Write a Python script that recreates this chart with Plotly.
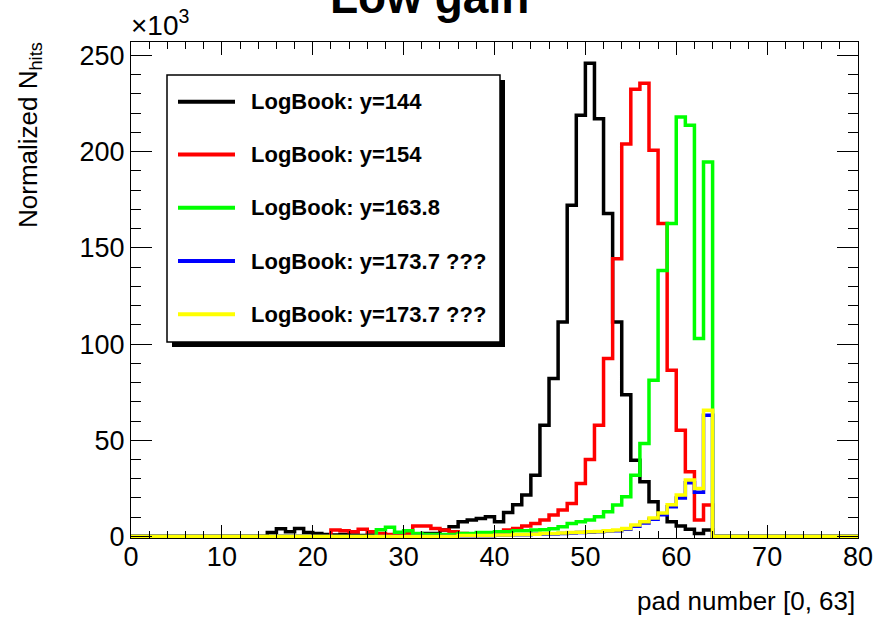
import numpy as np
import plotly.graph_objects as go

# ---------------- data (values in units of 10^3 hits) ----------------
bin_edges = list(range(0, 81))          # 80 bins of width 1 on [0, 80]
n_bins = 80

# pads 0..63 (bins 64..79 are empty)
black_y144 = [
    0, 0, 0, 0, 0, 0, 0, 0, 0, 0, 0, 0, 0, 0, 0, 2.0,
    4.0, 2.4, 4.2, 2.0, 1.5, 1.0, 0.8, 1.0, 0.8, 0.5, 0.8, 0.5, 0.8, 1.0, 0.8, 1.0,
    1.5, 1.5, 3.3, 5.0, 7.6, 8.5, 9.3, 10.2, 7.6, 12.5, 16.5, 21.5, 31.8, 57.8, 82.1, 111.5,
    172.1, 218.9, 246.0, 217.1, 167.8, 111.5, 73.6, 39.6, 28.5, 18.0, 11.5, 7.6, 5.5, 3.8, 1.6, 3.3,
]
red_y154 = [
    0, 0, 0, 0, 0, 0, 0, 0, 0, 0, 0, 0, 0, 0, 0, 0,
    0, 0, 0, 0, 0, 0, 3.3, 3.0, 2.4, 3.8, 2.4, 1.5, 1.0, 1.0, 1.5, 5.4,
    5.4, 4.2, 3.3, 2.4, 1.5, 1.0, 1.0, 1.0, 1.5, 3.3, 4.2, 5.5, 6.8, 8.5, 11.1, 13.7,
    17.1, 27.5, 40.0, 57.8, 92.5, 144.4, 204.0, 232.5, 235.5, 200.7, 162.6, 86.4, 55.2, 33.6, 8.5, 16.3,
]
green_y163_8 = [
    0, 0, 0, 0, 0, 0, 0, 0, 0, 0, 0, 0, 0, 0, 0, 0,
    0, 0, 0, 0, 0, 0, 0, 0, 0, 0, 0, 3.5, 4.8, 2.2, 3.0, 1.5,
    1.0, 1.0, 1.0, 1.0, 1.5, 1.5, 2.0, 2.0, 2.5, 2.5, 3.0, 3.0, 3.3, 3.5, 4.0, 5.0,
    6.8, 7.6, 8.5, 10.2, 12.8, 16.3, 20.6, 31.8, 48.3, 81.2, 138.3, 162.6, 218.0, 213.7, 102.9, 194.6,
]
blue_y173_7 = [
    0, 0, 0, 0, 0, 0, 0, 0, 0, 0, 0, 0, 0, 0, 0, 0,
    0, 0, 0, 0, 0, 0, 0, 0, 0, 0, 0, 0, 0, 0, 0, 0,
    0, 0, 0, 0, 0.4, 0.4, 0.4, 0.4, 0.7, 0.7, 0.9, 0.9, 1.1, 1.3, 1.3, 1.6,
    1.8, 2.0, 2.2, 2.4, 2.8, 3.0, 3.8, 5.3, 7.0, 8.9, 11.3, 15.4, 20.0, 27.9, 23.0, 63.0,
]
yellow_y173_7 = [
    0, 0, 0, 0, 0, 0, 0, 0, 0, 0, 0, 0, 0, 0, 0, 0,
    0, 0, 0, 0, 0, 0, 0, 0, 0, 0, 0, 0, 0, 0, 0, 0,
    0, 0, 0, 0, 0.5, 0.5, 0.5, 0.5, 0.8, 0.8, 1.0, 1.0, 1.2, 1.5, 1.5, 1.8,
    2.0, 2.2, 2.4, 2.6, 3.0, 3.3, 4.2, 5.9, 7.6, 9.6, 12.2, 16.5, 21.5, 29.3, 24.9, 65.6,
]

series_names = ["LogBook: y=144", "LogBook: y=154", "LogBook: y=163.8",
                "LogBook: y=173.7 ???", "LogBook: y=173.7 ???"]
series_colors = ["#000000", "#ff0000", "#00ff00", "#0000ff", "#ffff00"]
series_values = [black_y144, red_y154, green_y163_8, blue_y173_7, yellow_y173_7]

x_ticks = [0, 10, 20, 30, 40, 50, 60, 70, 80]
y_ticks = [0, 50, 100, 150, 200, 250]

# ---------------- figure ----------------
W, H = 877, 624
ML, MR, MT, MB = 131, 19, 42, 86
PW, PH = W - ML - MR, H - MT - MB
Y_MIN, Y_MAX = -0.8, 257.0

FONT = "Liberation Sans, Arial, Helvetica, sans-serif"


def px_x(px):
    return (px - ML) / PW


def px_y(py):
    return (H - MB - py) / PH


fig = go.Figure()
for name, color, vals in zip(series_names, series_colors, series_values):
    full = list(vals) + [0.0] * (n_bins - len(vals))
    fig.add_trace(go.Scatter(
        x=bin_edges, y=full + [full[-1]],
        mode="lines", line=dict(color=color, width=3.5, shape="hv"),
        name=name, hoverinfo="skip", showlegend=False,
    ))

axis_common = dict(
    showline=True, linecolor="black", linewidth=1, mirror="allticks",
    ticks="inside", tickcolor="black", showgrid=False, zeroline=False,
    tickfont=dict(family=FONT, size=27, color="black"),
)
fig.update_xaxes(range=[0, 80], tickvals=x_ticks, ticklen=13, ticklabelstandoff=-5,
                 minor=dict(dtick=2, ticks="inside", ticklen=7, tickcolor="black"),
                 **axis_common)
fig.update_yaxes(range=[Y_MIN, Y_MAX], tickvals=y_ticks, ticklen=21,
                 minor=dict(dtick=10, ticks="inside", ticklen=10, tickcolor="black"),
                 **axis_common)

fig.update_layout(
    width=W, height=H,
    margin=dict(l=ML, r=MR, t=MT, b=MB, autoexpand=False),
    paper_bgcolor="white", plot_bgcolor="white",
    showlegend=False,
)

# ---------------- ROOT-style legend box (with drop shadow) ----------------
LEG_L, LEG_T, LEG_R, LEG_B = 167, 75, 500, 342
SHADOW = 5
row_centers = [101.7, 154.5, 207.8, 261.0, 314.3]
shapes = [
    dict(type="rect", xref="paper", yref="paper", layer="above",
         x0=px_x(LEG_L + SHADOW), x1=px_x(LEG_R + SHADOW),
         y0=px_y(LEG_B + SHADOW), y1=px_y(LEG_T + SHADOW),
         fillcolor="black", line=dict(width=0)),
    dict(type="rect", xref="paper", yref="paper", layer="above",
         x0=px_x(LEG_L), x1=px_x(LEG_R), y0=px_y(LEG_B), y1=px_y(LEG_T),
         fillcolor="white", line=dict(color="black", width=1.5)),
]
annotations = []
for name, color, yc in zip(series_names, series_colors, row_centers):
    shapes.append(dict(type="line", xref="paper", yref="paper", layer="above",
                       x0=px_x(178), x1=px_x(235), y0=px_y(yc), y1=px_y(yc),
                       line=dict(color=color, width=4)))
    annotations.append(dict(text=name, x=px_x(249), y=px_y(yc), xref="paper", yref="paper",
                            xanchor="left", yanchor="middle", showarrow=False,
                            font=dict(family=FONT, size=22, color="black", weight="bold")))

annotations += [
    dict(text="Low gain", x=px_x(429), y=px_y(-3), xref="paper", yref="paper",
         xanchor="center", yanchor="middle", showarrow=False,
         font=dict(family=FONT, size=46, color="black", weight="bold")),
    dict(text="×10<sup>3</sup>", x=px_x(129), y=px_y(43), xref="paper", yref="paper",
         xanchor="left", yanchor="bottom", showarrow=False,
         font=dict(family=FONT, size=28, color="black")),
    dict(text="Normalized N<sub>hits</sub>", x=px_x(30), y=px_y(40), xref="paper", yref="paper",
         xanchor="center", yanchor="top", textangle=-90, showarrow=False,
         font=dict(family=FONT, size=26, color="black")),
    dict(text="pad number [0, 63]", x=px_x(857), y=px_y(601), xref="paper", yref="paper",
         xanchor="right", yanchor="middle", showarrow=False,
         font=dict(family=FONT, size=26, color="black")),
]
fig.update_layout(shapes=shapes, annotations=annotations)

fig.write_html("out.html")
